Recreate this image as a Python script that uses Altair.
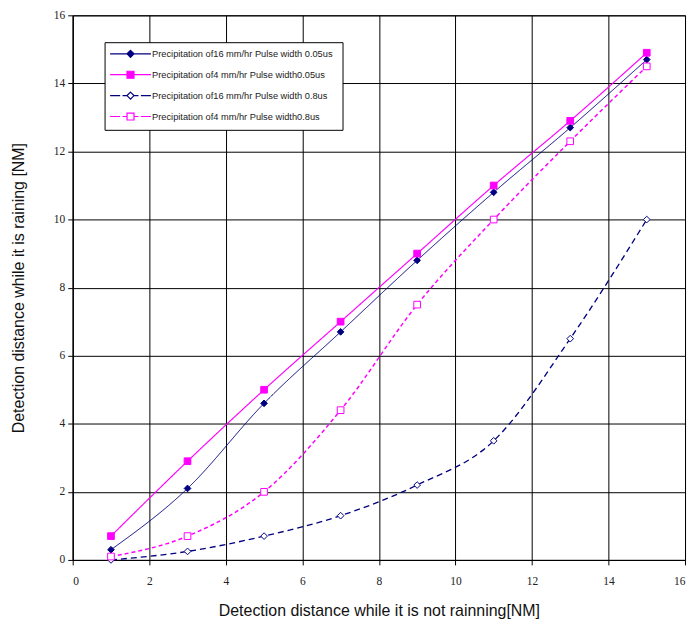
import altair as alt
import pandas as pd

x_vals = [1, 3, 5, 7, 9, 11, 13, 15]
s_16_005 = [0.3, 2.1, 4.6, 6.7, 8.8, 10.8, 12.7, 14.7]
s_4_005 = [0.7, 2.9, 5.0, 7.0, 9.0, 11.0, 12.9, 14.9]
s_16_08 = [0.0, 0.25, 0.7, 1.3, 2.2, 3.5, 6.5, 10.0]
s_4_08 = [0.1, 0.7, 2.0, 4.4, 7.5, 10.0, 12.3, 14.5]

labels = [
    "Precipitation of16  mm/hr Pulse width 0.05us",
    "Precipitation of4  mm/hr Pulse width0.05us",
    "Precipitation of16  mm/hr Pulse width 0.8us",
    "Precipitation of4  mm/hr Pulse width0.8us",
]
series_values = [s_16_005, s_4_005, s_16_08, s_4_08]

NAVY = "#000080"
MAGENTA = "#FF00FF"
colors = [NAVY, MAGENTA, NAVY, MAGENTA]
fills = [NAVY, MAGENTA, "white", "white"]
dashes = [[1, 0], [1, 0], [6, 4], [4, 3]]
widths = [1.0, 1.5, 1.5, 1.2]

rows = []
for lab, vals in zip(labels, series_values):
    for xv, yv in zip(x_vals, vals):
        rows.append({"series": lab, "key": lab, "x": xv, "y": yv})
df = pd.DataFrame(rows)

# legend symbols: line + marker (unit = 2px)
L = 10.25
m = 1.75
diamond = f"M0,-{m}L{m},0L0,{m}L-{m},0Z"
square = f"M-{m},-{m}H{m}V{m}H-{m}Z"
solid_line = f"M-{L},0H-{m}M{m},0H{L}"
dash_line = f"M-{L},0H-5.2M-4,0H-{m}M{m},0H4M5.2,0H{L}"
legend_shapes = [
    solid_line + diamond,
    solid_line + square,
    dash_line + diamond,
    dash_line + square,
]

xs = alt.Scale(domain=[0, 16], nice=False)
ys = alt.Scale(domain=[0, 16], nice=False)
ticks = list(range(0, 17, 2))

x_enc = alt.X("x:Q", scale=xs,
              axis=alt.Axis(values=ticks, title="Detection distance while it is not rainning[NM]",
                            labelPadding=11, titlePadding=15))
y_enc = alt.Y("y:Q", scale=ys,
              axis=alt.Axis(values=ticks, title="Detection distance while it is raining [NM]",
                            labelPadding=3, titlePadding=27))

base = alt.Chart(df)

lines = base.mark_line(interpolate="monotone").encode(
    x=x_enc, y=y_enc,
    color=alt.Color("series:N", scale=alt.Scale(domain=labels, range=colors), legend=None),
    strokeDash=alt.StrokeDash("series:N", scale=alt.Scale(domain=labels, range=dashes), legend=None),
    strokeWidth=alt.StrokeWidth("series:N", scale=alt.Scale(domain=labels, range=widths), legend=None),
)

points = base.mark_point(filled=False, size=45, strokeWidth=1, opacity=1).encode(
    x="x:Q", y="y:Q",
    color=alt.Color("series:N", scale=alt.Scale(domain=labels, range=colors), legend=None),
    fill=alt.Fill("series:N", scale=alt.Scale(domain=labels, range=fills), legend=None),
    shape=alt.Shape("series:N", scale=alt.Scale(domain=labels, range=["diamond", "square", "diamond", "square"]),
                    legend=None),
)

leg = alt.Legend(
    title=None, orient="none", legendX=32, legendY=27,
    strokeColor="black", fillColor="white", padding=7,
    symbolSize=16, symbolStrokeWidth=1.2, symbolOpacity=1,
    symbolOffset=14.4, labelOffset=17,
    labelFont="Liberation Sans", labelFontSize=9.3, labelColor="#222222",
    rowPadding=8, labelLimit=400,
)

legend_layer = base.mark_point(filled=False, opacity=0).encode(
    x="x:Q", y="y:Q",
    color=alt.Color("key:N", scale=alt.Scale(domain=labels, range=colors), legend=leg),
    fill=alt.Fill("key:N", scale=alt.Scale(domain=labels, range=fills), legend=leg),
    shape=alt.Shape("key:N", scale=alt.Scale(domain=labels, range=legend_shapes), legend=leg),
)

chart = alt.layer(lines, points, legend_layer).resolve_scale(
    color="independent", fill="independent", shape="independent"
).properties(
    width=615, height=547,
    autosize=alt.AutoSizeParams(type="none"),
    padding={"left": 65, "top": 6, "right": 6, "bottom": 62},
    background="white",
).configure_view(stroke="black", strokeWidth=1).configure_axis(
    grid=True, gridColor="black", gridOpacity=1, gridWidth=1,
    domainColor="black", tickColor="black", tickSize=5,
    labelFont="Liberation Serif", labelFontSize=11.5, labelColor="#222222",
    titleFont="Liberation Sans", titleFontSize=16, titleFontWeight="normal", titleColor="#111111",
)

chart.save("out.html", embed_options={"renderer": "svg", "actions": False})
